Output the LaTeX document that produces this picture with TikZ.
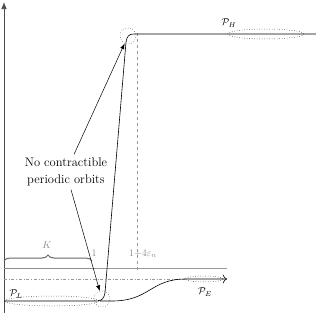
\documentclass[tikz,border=0pt]{standalone}
\usepackage{amsmath,amssymb}
\usetikzlibrary{arrows.meta,positioning,decorations.pathreplacing}

\begin{document}
\begin{tikzpicture}[x=1pt,y=-1pt,
    curve/.style={line width=0.6pt},
    guide/.style={gray!80,line width=0.4pt},
    orbit/.style={draw,dotted,circle,minimum size=16pt,inner sep=0pt},
    arrow/.style={-{Latex[length=2mm]},line width=0.5pt},
    lbl/.style={text=gray!90}
  ]
  \useasboundingbox (0,0) rectangle (316,313);
  % axis
  \draw[-{Latex[length=2.5mm,width=2mm]},black!70,line width=0.8pt] (4,313) -- (4,2);
  % levels
  \draw[guide] (4,268) -- (227,268);
  \draw[gray!90,line width=1pt] (4,268) -- (92,268);
  \draw[guide,dash dot] (4,279) -- (185,279);
  \draw[guide,dashed] (137,33) -- (137,273);
  \draw[decorate,decoration={brace,amplitude=6pt},black!60,line width=1pt] (4,261) -- (92,261);
  \node[lbl] (k) at (47,245) {$K$};
  \node[lbl] (one) at (94,253) {$1$};
  \node[lbl] (eps) at (143,254) {$1{+}4\varepsilon_n$};
  % curves
  \draw[curve] (4,301) -- (97,301) .. controls (102,301) and (104,298) .. (105,293)
    -- (126,42) .. controls (127,36) and (129,34) .. (134,34) -- (316,34);
  \draw[curve,-{To[length=1.5mm]}] (100,301) -- (112,301) .. controls (150,301) and (150,279) .. (186,279) -- (227,279);
  % orbit sets
  \draw[dotted,line width=0.5pt] (266,34) ellipse [x radius=38,y radius=5];
  \draw[dotted,line width=0.5pt] (52,301) ellipse [x radius=47,y radius=5];
  \draw[dotted,line width=0.5pt] (204,279) ellipse [x radius=19,y radius=3];
  \node (ph) at (229,23) {$\mathcal{P}_H$};
  \node (pl) at (16,294) {$\mathcal{P}_L$};
  \node (pe) at (205,292) {$\mathcal{P}_E$};
  \node[orbit] (ctop) at (128,36) {};
  \node[orbit] (cbot) at (102,299) {};
  % label
  \node[align=center,font=\fontsize{12.5}{17}\selectfont] (txt) at (66,172) {No contractible\\periodic orbits};
  \draw[arrow] (txt) -- (ctop);
  \draw[arrow] (txt) -- (cbot);
\end{tikzpicture}
\end{document}
